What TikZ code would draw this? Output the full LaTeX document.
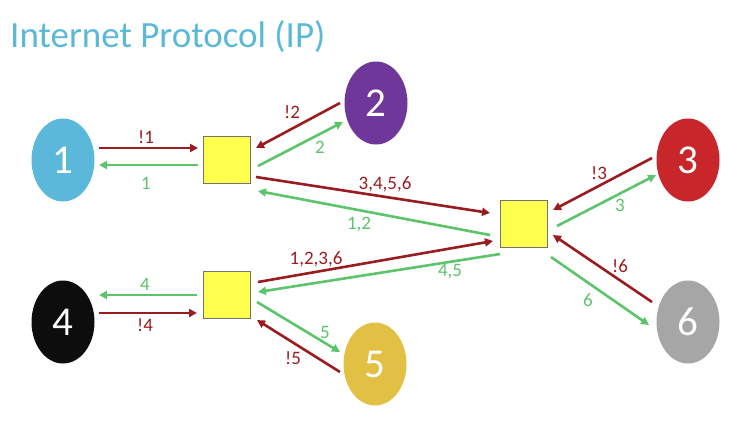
\documentclass[tikz,border=0pt]{standalone}
\usepackage{fontspec}
\setmainfont{Carlito}
\usetikzlibrary{arrows.meta,shapes.geometric}
\definecolor{titleblue}{HTML}{5BB9D7}
\definecolor{hostone}{HTML}{5BB8DA}
\definecolor{hosttwo}{HTML}{70379A}
\definecolor{hostthree}{HTML}{C8262A}
\definecolor{hostfour}{HTML}{0D0D0D}
\definecolor{hostfive}{HTML}{E2C044}
\definecolor{hostsix}{HTML}{A6A6A6}
\definecolor{denyred}{HTML}{9B1C20}
\definecolor{passgreen}{HTML}{5CC46A}
\definecolor{routeryellow}{HTML}{FFFF4D}
\tikzset{
  host/.style={ellipse, minimum width=63pt, minimum height=83pt, inner sep=0pt,
    text=white, font=\fontsize{41}{41}\selectfont},
  router/.style={rectangle, minimum size=47pt, inner sep=0pt, fill=routeryellow,
    draw=black!55, line width=0.8pt},
  deny/.style={draw=denyred, line width=2.6pt, -{Triangle[length=8pt,width=8pt]}},
  pass/.style={draw=passgreen, line width=2.6pt, -{Triangle[length=8pt,width=8pt]}},
  denylbl/.style={text=denyred, font=\fontsize{19}{19}\selectfont},
  passlbl/.style={text=passgreen, font=\fontsize{19}{19}\selectfont},
}
\begin{document}
\begin{tikzpicture}[x=1pt,y=-1pt]
\useasboundingbox (0,0) rectangle (730,424);
\node[anchor=base west, text=titleblue, font=\fontsize{37}{37}\selectfont, inner sep=0pt]
  (title) at (10,47) {Internet Protocol (IP)};

% hosts
\node[host, fill=hostone]   (e1) at (63,160) {1};
\node[host, fill=hosttwo]   (e2) at (376,103) {2};
\node[host, fill=hostthree] (e3) at (688,160) {3};
\node[host, fill=hostfour]  (e4) at (63,322) {4};
\node[host, fill=hostfive]  (e5) at (375,364) {5};
\node[host, fill=hostsix]   (e6) at (688,322) {6};

% routers
\node[router] (s1) at (227,160) {};
\node[router] (s2) at (227,295) {};
\node[router] (s3) at (524,224) {};

% host 1 <-> router 1
\draw[deny] ([shift={(36,-12)}]e1.center) -- ([shift={(-29,-12)}]s1.center);
\draw[pass] ([shift={(-29,5)}]s1.center) -- ([shift={(36,5)}]e1.center);
\node[denylbl] (l1a) at (146,137) {!1};
\node[passlbl] (l1b) at (146,183) {1};

% host 2 <-> router 1
\draw[deny] ([shift={(-36,0)}]e2.center) -- ([shift={(29,-12)}]s1.center);
\draw[pass] ([shift={(31,6)}]s1.center) -- ([shift={(-33,19)}]e2.center);
\node[denylbl] (l2a) at (292,112) {!2};
\node[passlbl] (l2b) at (320,147) {2};

% router 1 <-> router 3
\draw[deny] ([shift={(29,17)}]s1.center) -- ([shift={(-34,-11)}]s3.center);
\draw[pass] ([shift={(-34,11)}]s3.center) -- ([shift={(31,31)}]s1.center);
\node[denylbl] (l13a) at (385,184) {3,4,5,6};
\node[passlbl] (l13b) at (359,225) {1,2};

% router 2 <-> router 3
\draw[deny] ([shift={(31,-13)}]s2.center) -- ([shift={(-31,17)}]s3.center);
\draw[pass] ([shift={(-24,30)}]s3.center) -- ([shift={(31,-3)}]s2.center);
\node[denylbl] (l23a) at (316,259) {1,2,3,6};
\node[passlbl] (l23b) at (450,272) {4,5};

% host 4 <-> router 2
\draw[pass] ([shift={(-30,0)}]s2.center) -- ([shift={(36,-27)}]e4.center);
\draw[deny] ([shift={(36,-9)}]e4.center) -- ([shift={(-30,18)}]s2.center);
\node[passlbl] (l4b) at (145,284) {4};
\node[denylbl] (l4a) at (145,325) {!4};

% host 5 <-> router 2
\draw[pass] ([shift={(30,7)}]s2.center) -- ([shift={(-35,-12)}]e5.center);
\draw[deny] ([shift={(-35,8)}]e5.center) -- ([shift={(30,25)}]s2.center);
\node[passlbl] (l5b) at (325,332) {5};
\node[denylbl] (l5a) at (293,358) {!5};

% host 3 <-> router 3
\draw[deny] ([shift={(-36,-2)}]e3.center) -- ([shift={(29,-14)}]s3.center);
\draw[pass] ([shift={(33,2)}]s3.center) -- ([shift={(-32,15)}]e3.center);
\node[denylbl] (l3a) at (599,173) {!3};
\node[passlbl] (l3b) at (620,205) {3};

% host 6 <-> router 3
\draw[deny] ([shift={(-36,-20)}]e6.center) -- ([shift={(29,11)}]s3.center);
\draw[pass] ([shift={(27,33)}]s3.center) -- ([shift={(-39,3)}]e6.center);
\node[denylbl] (l6a) at (620,266) {!6};
\node[passlbl] (l6b) at (588,300) {6};
\end{tikzpicture}
\end{document}
